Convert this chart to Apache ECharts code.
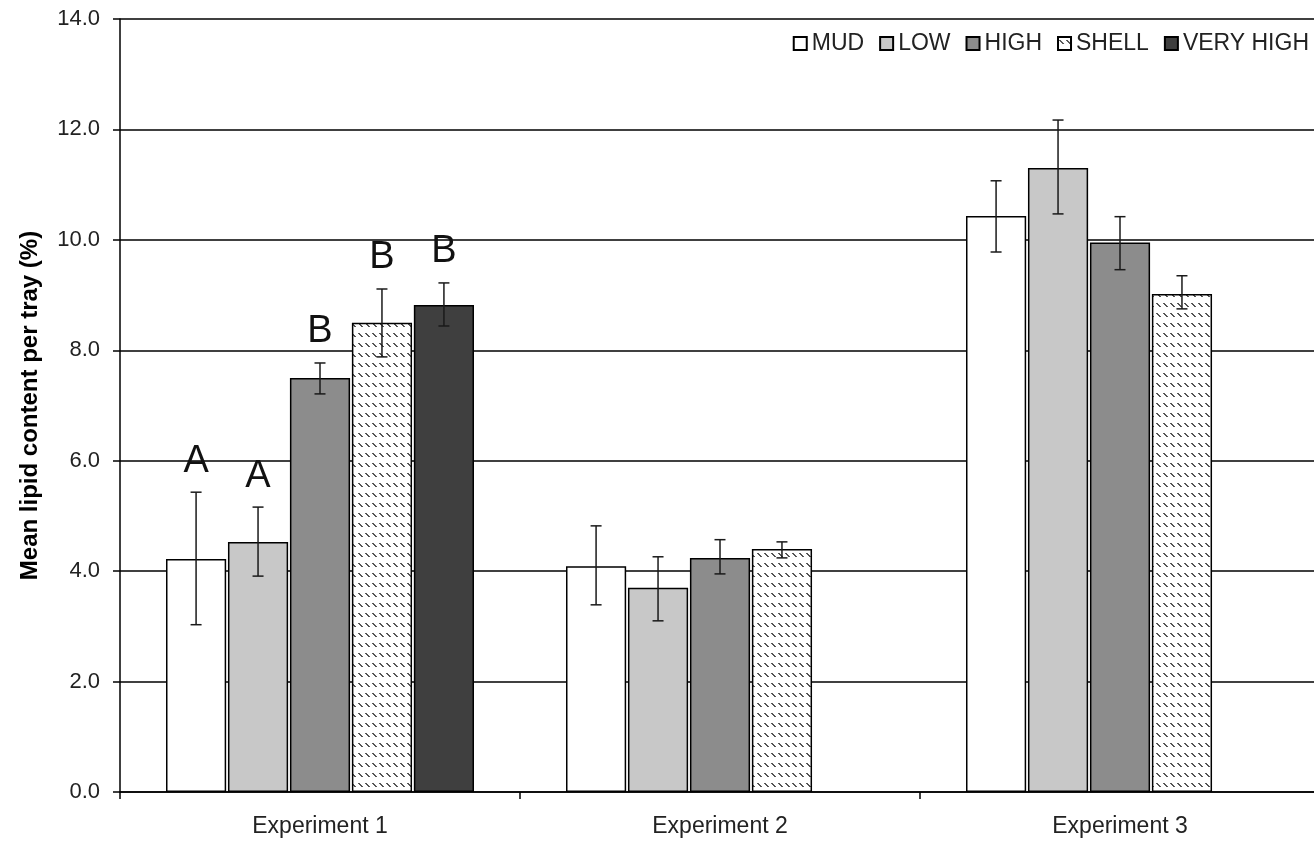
<!DOCTYPE html>
<html><head><meta charset="utf-8">
<script src="https://cdn.jsdelivr.net/npm/echarts@6/dist/echarts.min.js"></script>
<style>html,body{margin:0;padding:0;background:#fff;overflow:hidden}#c{width:1320px;height:841px}</style>
</head><body><div id="c"></div>
<script>
const categories = ['Experiment 1', 'Experiment 2', 'Experiment 3'];
const seriesNames = ['MUD', 'LOW', 'HIGH', 'SHELL', 'VERY HIGH'];
const mud = [4.22, 4.09, 10.43];
const low = [4.53, 3.70, 11.30];
const high = [7.50, 4.24, 9.95];
const shell = [8.50, 4.40, 9.02];
const veryHigh = [8.82, null, null];
const mudErr = [[3.03, 5.43], [3.39, 4.82], [9.78, 11.07]];
const lowErr = [[3.91, 5.16], [3.10, 4.26], [10.47, 12.17]];
const highErr = [[7.21, 7.77], [3.95, 4.57], [9.46, 10.42]];
const shellErr = [[7.88, 9.11], [4.24, 4.53], [8.75, 9.35]];
const veryHighErr = [[8.44, 9.22], null, null];
const sigLetters = [['A', null, null], ['A', null, null], ['B', null, null], ['B', null, null], ['B', null, null]];
const yTicks = [0, 2, 4, 6, 8, 10, 12, 14];

const values = [mud, low, high, shell, veryHigh];
const errs = [mudErr, lowErr, highErr, shellErr, veryHighErr];
const FONT = '"Liberation Sans", Arial, sans-serif';

// hatch pattern: rows of short backslash dashes
const pc = document.createElement('canvas');
pc.width = 7; pc.height = 10;
const g = pc.getContext('2d');
g.fillStyle = '#fff'; g.fillRect(0, 0, 7, 10);
g.fillStyle = '#555';
for (let k = 0; k < 4; k++) g.fillRect(1 + k, 3 + k, 2, 1);

const fills = ['#ffffff', '#c8c8c8', '#8c8c8c', { image: pc, repeat: 'repeat' }, '#3f3f3f'];
const CAT_GAP = 0.23, BAR_GAP = 0.03, N = 5;

const barSeries = seriesNames.map((name, i) => ({
  name, type: 'bar', data: values[i],
  barCategoryGap: (CAT_GAP * 100) + '%', barGap: (BAR_GAP * 100) + '%',
  itemStyle: { color: fills[i], borderColor: '#000', borderWidth: 1.5 },
  emphasis: { disabled: true }
}));

const errData = [];
errs.forEach((arr, s) => arr.forEach((e, c) => {
  if (e) errData.push([c, s, e[0], e[1], sigLetters[s][c] || '']);
}));

const errSeries = {
  type: 'custom', silent: true, z: 5,
  data: errData,
  encode: { x: 0, y: [2, 3] },
  renderItem: function (params, api) {
    const c = api.value(0), s = api.value(1), lo = api.value(2), hi = api.value(3);
    const letter = errData[params.dataIndex][4];
    const band = api.size([1, 0])[0];
    const barW = band * (1 - CAT_GAP) / (N + (N - 1) * BAR_GAP);
    const groupW = N * barW + (N - 1) * BAR_GAP * barW;
    const cx = api.coord([c, 0])[0] - groupW / 2 + s * barW * (1 + BAR_GAP) + barW / 2;
    const yLo = api.coord([c, lo])[1], yHi = api.coord([c, hi])[1];
    const st = { stroke: '#1a1a1a', lineWidth: 1.5 };
    const children = [
      { type: 'line', shape: { x1: cx, y1: yLo, x2: cx, y2: yHi }, style: st },
      { type: 'line', shape: { x1: cx - 5.5, y1: yLo, x2: cx + 5.5, y2: yLo }, style: st },
      { type: 'line', shape: { x1: cx - 5.5, y1: yHi, x2: cx + 5.5, y2: yHi }, style: st }
    ];
    if (letter) children.push({ type: 'text', style: { text: letter, x: cx, y: yHi - 12, align: 'center', verticalAlign: 'bottom', font: '38px ' + FONT, fill: '#111' } });
    return { type: 'group', children };
  }
};

const chart = echarts.init(document.getElementById('c'), null, { renderer: 'canvas' });
chart.setOption({
  animation: false,
  backgroundColor: '#fff',
  grid: { left: 120, right: 0, top: 19, bottom: 49, containLabel: false },
  legend: {
    data: seriesNames, right: 9, top: 30, itemWidth: 13, itemHeight: 13, itemGap: 15,
    icon: 'rect', padding: [2, 2],
    textStyle: { fontFamily: FONT, fontSize: 23, color: '#222', padding: [0, 0, 0, 0] }
  },
  xAxis: {
    type: 'category', data: categories,
    axisLine: { lineStyle: { color: '#000', width: 1.5 } },
    axisTick: { show: true, length: 7, lineStyle: { color: '#000', width: 1.5 } },
    axisLabel: { fontFamily: FONT, fontSize: 23, color: '#222', margin: 23 },
    splitLine: { show: false }
  },
  yAxis: {
    type: 'value', min: 0, max: 14, interval: 2,
    name: 'Mean lipid content per tray (%)', nameLocation: 'middle', nameGap: 78,
    nameTextStyle: { fontFamily: FONT, fontSize: 24, fontWeight: 'bold', color: '#000' },
    axisLine: { show: true, lineStyle: { color: '#000', width: 1.5 } },
    axisTick: { show: true, length: 7, inside: false, lineStyle: { color: '#000', width: 1.5 } },
    axisLabel: { fontFamily: FONT, fontSize: 22, color: '#222', margin: 20,
      formatter: v => yTicks.includes(v) ? v.toFixed(1) : '' },
    splitLine: { show: true, lineStyle: { color: '#000', width: 1.5 } }
  },
  series: [...barSeries, errSeries]
});
</script></body></html>
